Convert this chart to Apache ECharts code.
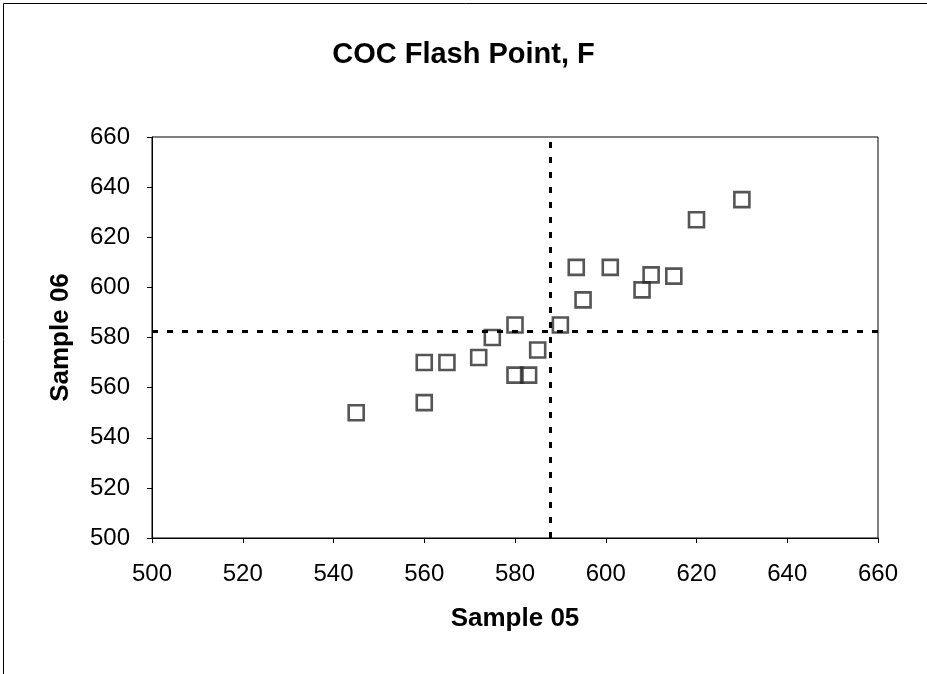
<!DOCTYPE html>
<html>
<head>
<meta charset="utf-8">
<script src="https://cdn.jsdelivr.net/npm/echarts@6/dist/echarts.min.js"></script>
<style>
html,body{margin:0;padding:0;background:#fff;}
#chart{width:927px;height:674px;}
</style>
</head>
<body>
<div id="chart"></div>
<script>
const titleText = 'COC Flash Point, F';
const xName = 'Sample 05';
const yName = 'Sample 06';
const sample05 = [545, 560, 560, 565, 572, 575, 580, 580, 583, 585, 590, 593.5, 601, 595, 608, 610, 615, 620, 630];
const sample06 = [550, 554, 570, 570, 572, 580, 585, 565, 565, 575, 585, 608, 608, 595, 599, 605, 604.5, 627, 635];
const refX = 587.7;
const refY = 582.4;
const axisMin = 500, axisMax = 660, axisStep = 20;

const points = sample05.map((x, i) => [x, sample06[i]]);
const font = "Arial, 'Liberation Sans', sans-serif";

const chart = echarts.init(document.getElementById('chart'), null, {renderer: 'canvas'});
chart.setOption({
  backgroundColor: '#fff',
  animation: false,
  title: {
    text: titleText,
    left: 'center',
    top: 35,
    textStyle: {fontFamily: font, fontSize: 29, fontWeight: 'bold', color: '#000'}
  },
  graphic: [{
    type: 'rect',
    shape: {x: 3.5, y: 3.5, width: 940, height: 720},
    style: {fill: 'none', stroke: '#000', lineWidth: 1},
    silent: true
  }],
  grid: {
    left: 152, top: 137, width: 726, height: 401,
    show: true, borderColor: '#000', borderWidth: 1, backgroundColor: 'transparent'
  },
  xAxis: {
    type: 'value', min: axisMin, max: axisMax, interval: axisStep,
    name: xName, nameLocation: 'middle', nameGap: 68,
    nameTextStyle: {fontFamily: font, fontSize: 26, fontWeight: 'bold', color: '#000'},
    axisLine: {show: true, lineStyle: {color: '#000', width: 1}},
    axisTick: {show: true, inside: false, length: 5, lineStyle: {color: '#000'}},
    axisLabel: {fontFamily: font, fontSize: 24, color: '#000', margin: 24},
    splitLine: {show: false}
  },
  yAxis: {
    type: 'value', min: axisMin, max: axisMax, interval: axisStep,
    name: yName, nameLocation: 'middle', nameGap: 78, nameRotate: 90,
    nameTextStyle: {fontFamily: font, fontSize: 26, fontWeight: 'bold', color: '#000'},
    axisLine: {show: true, lineStyle: {color: '#000', width: 1}},
    axisTick: {show: true, inside: false, length: 5, lineStyle: {color: '#000'}},
    axisLabel: {fontFamily: font, fontSize: 24, color: '#000', margin: 22},
    splitLine: {show: false}
  },
  series: [{
    type: 'scatter',
    data: points,
    symbol: 'rect',
    symbolSize: 15,
    itemStyle: {color: 'rgba(0,0,0,0)', borderColor: '#2b2b2b', borderWidth: 2.6},
    markLine: {
      silent: true,
      symbol: ['none', 'none'],
      label: {show: false},
      lineStyle: {color: '#000', width: 3, type: [6, 9]},
      data: [{xAxis: refX}, {yAxis: refY}]
    }
  }]
});
</script>
</body>
</html>
